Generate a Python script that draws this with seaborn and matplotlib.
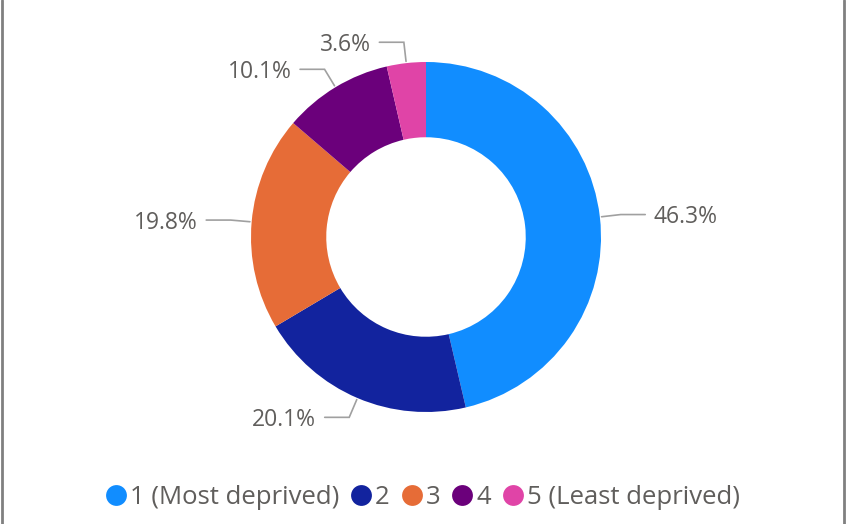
import matplotlib
matplotlib.use('Agg')
import matplotlib.pyplot as plt
import seaborn as sns
import numpy as np
from matplotlib.lines import Line2D

sns.set_theme(style='white')
plt.rcParams['font.family'] = ['Open Sans', 'DejaVu Sans']

# data
categories = ['1 (Most deprived)', '2', '3', '4', '5 (Least deprived)']
shares = [46.3, 20.1, 19.8, 10.1, 3.6]
labels = ['46.3%', '20.1%', '19.8%', '10.1%', '3.6%']
colors = ['#118DFF', '#12239E', '#E66C37', '#6B007B', '#E044A7']

txt_col = '#605E5C'
line_col = '#A0A0A0'

W, H = 848, 524
cx, cy, R = 426, 237, 175  # pie center / radius in px

fig = plt.figure(figsize=(W / 100, H / 100), dpi=100)
ax = fig.add_axes([0, 0, 1, 1])

wedges, _ = ax.pie(shares, colors=colors, startangle=90, counterclock=False,
                   radius=1, wedgeprops=dict(width=0.43, edgecolor='none'))

# leader lines + labels
for w, lab in zip(wedges, labels):
    mid = np.deg2rad((w.theta1 + w.theta2) / 2)
    x0, y0 = np.cos(mid), np.sin(mid)
    x1, y1 = 1.12 * x0, 1.12 * y0
    side = 1 if x0 > 0 else -1
    x2 = x1 + side * 0.14
    ax.plot([x0 * 1.01, x1, x2], [y0 * 1.01, y1, y1], color=line_col, lw=1.2,
            solid_joinstyle='miter')
    ax.text(x2 + side * 0.05, y1 - 0.015, lab, ha='left' if side > 0 else 'right',
            va='center', fontsize=16.5, color=txt_col)

ax.set_xlim(-cx / R, (W - cx) / R)
ax.set_ylim(-(H - cy) / R, cy / R)
ax.set_aspect('auto')
ax.axis('off')

# legend
handles = [Line2D([0], [0], marker='o', color='none', markerfacecolor=c,
                  markeredgecolor='none', markersize=15) for c in colors]
fig.legend(handles, categories, loc='center', bbox_to_anchor=(0.5, 1 - 497 / H),
           ncol=5, frameon=False, fontsize=18.5, handlelength=0.6,
           handletextpad=0.25, columnspacing=0.55, labelcolor=txt_col,
           borderaxespad=0)

# side borders of the visual
fig.add_artist(Line2D([2 / W, 2 / W], [0, 1], color='#808080', lw=2))
fig.add_artist(Line2D([844 / W, 844 / W], [0, 1], color='#808080', lw=2))

fig.savefig('out.png', dpi=100)
